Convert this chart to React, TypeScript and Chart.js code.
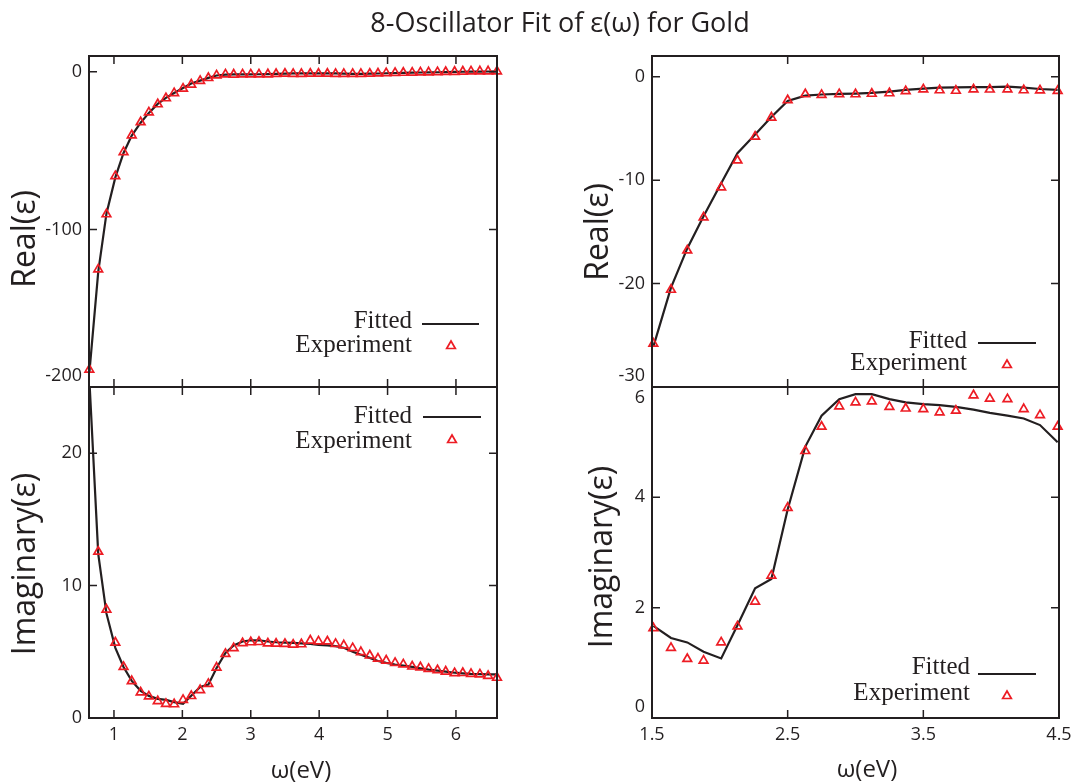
import React, { useEffect, useRef } from 'react';
import { Chart, registerables } from 'chart.js';

Chart.register(...registerables);

// ---- data (photon energy in eV) ----
const OMEGA = [0.64, 0.77, 0.89, 1.02, 1.14, 1.26, 1.39, 1.51, 1.64, 1.76, 1.88, 2.01, 2.13, 2.26, 2.38, 2.5, 2.63, 2.75, 2.88, 3.0, 3.12, 3.25, 3.37, 3.5, 3.62, 3.74, 3.87, 3.99, 4.12, 4.24, 4.36, 4.49, 4.61, 4.74, 4.86, 4.98, 5.11, 5.23, 5.36, 5.48, 5.6, 5.73, 5.85, 5.98, 6.1, 6.22, 6.35, 6.47, 6.6];

const EXP_REAL = [-189.0, -125.4, -90.4, -66.2, -51.0, -40.3, -32.0, -25.8, -20.6, -16.8, -13.6, -10.7, -8.1, -5.8, -3.95, -2.28, -1.7, -1.76, -1.69, -1.7, -1.65, -1.6, -1.4, -1.23, -1.31, -1.36, -1.23, -1.24, -1.23, -1.31, -1.33, -1.37, -1.35, -1.24, -1.08, -0.89, -0.74, -0.62, -0.55, -0.42, -0.35, -0.23, -0.13, -0.01, 0.14, 0.2, 0.29, 0.29, 0.23];

const FIT_REAL = [-191.0, -127.0, -90.0, -67.0, -51.5, -40.5, -32.3, -26.1, -20.4, -16.6, -13.5, -10.3, -7.4, -5.6, -3.9, -2.35, -1.83, -1.72, -1.67, -1.63, -1.57, -1.44, -1.28, -1.15, -1.06, -1.03, -1.0, -1.0, -0.96, -1.06, -1.19, -1.28, -1.3, -1.22, -1.1, -0.95, -0.8, -0.68, -0.58, -0.48, -0.4, -0.3, -0.2, -0.1, 0.0, 0.08, 0.14, 0.18, 0.2];

const EXP_IMAG = [25.36, 12.56, 8.19, 5.7, 3.86, 2.79, 1.93, 1.63, 1.27, 1.07, 1.04, 1.37, 1.66, 2.11, 2.58, 3.81, 4.84, 5.28, 5.65, 5.72, 5.74, 5.64, 5.61, 5.6, 5.54, 5.57, 5.85, 5.79, 5.78, 5.6, 5.49, 5.28, 4.98, 4.72, 4.49, 4.34, 4.16, 4.05, 3.89, 3.83, 3.71, 3.61, 3.51, 3.39, 3.4, 3.33, 3.29, 3.18, 3.04];

const FIT_IMAG = [25.6, 12.4, 7.9, 5.3, 3.85, 2.8, 2.05, 1.67, 1.45, 1.37, 1.2, 1.08, 1.68, 2.35, 2.52, 3.78, 4.92, 5.48, 5.78, 5.87, 5.87, 5.78, 5.72, 5.69, 5.67, 5.64, 5.59, 5.53, 5.48, 5.43, 5.31, 5.0, 4.78, 4.54, 4.3, 4.16, 4.04, 3.96, 3.86, 3.76, 3.66, 3.58, 3.5, 3.42, 3.37, 3.33, 3.31, 3.3, 3.3];

// ---- tick labels ----
const LEFT_X_TICKS = [1, 2, 3, 4, 5, 6];
const RIGHT_X_TICKS = [1.5, 2.5, 3.5, 4.5];
const TL_Y_TICKS = [-200, -100, 0];
const BL_Y_TICKS = [0, 10, 20];
const TR_Y_TICKS = [-30, -20, -10, 0];
const BR_Y_TICKS = [0, 2, 4, 6];

// ---- texts ----
const TITLE = '8-Oscillator Fit of ε(ω) for Gold';
const X_TITLE = 'ω(eV)';
const REAL_TITLE = 'Real(ε)';
const IMAG_TITLE = 'Imaginary(ε)';
const FIT_LABEL = 'Fitted';
const EXP_LABEL = 'Experiment';

const W = 1073;
const H = 784;
const INK = '#231f20';
const RED = '#ed1c24';
const SANS = '"Open Sans", "Liberation Sans", sans-serif';
const SERIF = '"Liberation Serif", "DejaVu Serif", serif';

type Legend = { textRight: number; fitY: number; expY: number; x0: number; x1: number; lineY: number; triX: number; triY: number };
type Panel = {
  area: { l: number; t: number; r: number; b: number };
  xRange: [number, number];
  yRange: [number, number];
  xTicks: number[];
  yTicks: number[];
  showX: boolean;
  exp: number[];
  fit: number[];
  yTitle: string;
  yTitlePos: [number, number];
  xTitlePos?: [number, number];
  legend: Legend;
  shiftUp: number[];
  shiftDown: number[];
  mainTitle?: boolean;
};

const PANELS: Panel[] = [
  {
    area: { l: 89, t: 56, r: 497, b: 387 },
    xRange: [0.635, 6.6], yRange: [-200, 10],
    xTicks: LEFT_X_TICKS, yTicks: TL_Y_TICKS, showX: false,
    exp: EXP_REAL, fit: FIT_REAL,
    yTitle: REAL_TITLE, yTitlePos: [26, 239],
    legend: { textRight: 412, fitY: 321, expY: 345, x0: 422, x1: 479, lineY: 324, triX: 451, triY: 346 },
    shiftUp: [-200], shiftDown: [], mainTitle: true,
  },
  {
    area: { l: 89, t: 387, r: 497, b: 718 },
    xRange: [0.635, 6.6], yRange: [0, 25],
    xTicks: LEFT_X_TICKS, yTicks: BL_Y_TICKS, showX: true,
    exp: EXP_IMAG, fit: FIT_IMAG,
    yTitle: IMAG_TITLE, yTitlePos: [26, 564], xTitlePos: [301, 771],
    legend: { textRight: 412, fitY: 416, expY: 441, x0: 423, x1: 481, lineY: 417, triX: 452, triY: 440 },
    shiftUp: [], shiftDown: [],
  },
  {
    area: { l: 652, t: 56, r: 1059, b: 387 },
    xRange: [1.5, 4.5], yRange: [-30, 2],
    xTicks: RIGHT_X_TICKS, yTicks: TR_Y_TICKS, showX: false,
    exp: EXP_REAL, fit: FIT_REAL,
    yTitle: REAL_TITLE, yTitlePos: [599, 232],
    legend: { textRight: 967, fitY: 341, expY: 363, x0: 978, x1: 1036, lineY: 343, triX: 1007, triY: 365 },
    shiftUp: [-30], shiftDown: [],
  },
  {
    area: { l: 652, t: 387, r: 1059, b: 718 },
    xRange: [1.5, 4.5], yRange: [0, 6],
    xTicks: RIGHT_X_TICKS, yTicks: BR_Y_TICKS, showX: true,
    exp: EXP_IMAG, fit: FIT_IMAG,
    yTitle: IMAG_TITLE, yTitlePos: [603, 557], xTitlePos: [867, 770],
    legend: { textRight: 970, fitY: 667, expY: 693, x0: 978, x1: 1036, lineY: 674, triX: 1007, triY: 696 },
    shiftUp: [0], shiftDown: [6],
  },
];

function series(arr: number[], range: [number, number]) {
  return OMEGA.map((x, i) => ({ x, y: arr[i] })).filter((p) => p.x >= range[0] - 1e-9 && p.x <= range[1] + 1e-9);
}

function makeChart(canvas: HTMLCanvasElement, p: Panel) {
  const yAxisW = 60;
  const xAxisH = p.showX ? 40 : 0;
  const padding = {
    left: p.area.l - yAxisW,
    top: p.area.t,
    right: W - p.area.r,
    bottom: H - p.area.b - xAxisH,
  };

  const deco = {
    id: 'deco' + p.area.l + p.area.t,
    afterDraw(chart: any) {
      const ctx = chart.ctx as CanvasRenderingContext2D;
      const a = chart.chartArea;
      const xs = chart.scales.x;
      const ys = chart.scales.y;
      ctx.save();
      // inward ticks on all four sides
      ctx.strokeStyle = INK;
      ctx.lineWidth = 1.5;
      ctx.beginPath();
      p.xTicks.forEach((v) => {
        const px = xs.getPixelForValue(v);
        ctx.moveTo(px, a.top);
        ctx.lineTo(px, a.top + 8);
        ctx.moveTo(px, a.bottom);
        ctx.lineTo(px, a.bottom - 8);
      });
      p.yTicks.forEach((v) => {
        const py = ys.getPixelForValue(v);
        ctx.moveTo(a.left, py);
        ctx.lineTo(a.left + 8, py);
        ctx.moveTo(a.right, py);
        ctx.lineTo(a.right - 8, py);
      });
      ctx.stroke();
      // frame
      ctx.lineWidth = 2;
      ctx.strokeRect(a.left, a.top, a.right - a.left, a.bottom - a.top);

      ctx.fillStyle = INK;
      // y title
      ctx.save();
      ctx.translate(p.yTitlePos[0], p.yTitlePos[1]);
      ctx.rotate(-Math.PI / 2);
      ctx.font = `32px ${SANS}`;
      ctx.textAlign = 'center';
      ctx.textBaseline = 'middle';
      ctx.fillText(p.yTitle, 0, 0);
      ctx.restore();
      // x title
      if (p.xTitlePos) {
        ctx.font = `24px ${SANS}`;
        ctx.textAlign = 'center';
        ctx.textBaseline = 'middle';
        ctx.fillText(X_TITLE, p.xTitlePos[0], p.xTitlePos[1]);
      }
      // main title
      if (p.mainTitle) {
        ctx.font = `27px ${SANS}`;
        ctx.textAlign = 'center';
        ctx.textBaseline = 'alphabetic';
        ctx.fillText(TITLE, 560, 32);
      }
      // legend
      const lg = p.legend;
      ctx.font = `25px ${SERIF}`;
      ctx.textAlign = 'right';
      ctx.textBaseline = 'middle';
      ctx.fillText(FIT_LABEL, lg.textRight, lg.fitY);
      ctx.fillText(EXP_LABEL, lg.textRight, lg.expY);
      ctx.strokeStyle = INK;
      ctx.lineWidth = 2.2;
      ctx.beginPath();
      ctx.moveTo(lg.x0, lg.lineY);
      ctx.lineTo(lg.x1, lg.lineY);
      ctx.stroke();
      const r = 5;
      ctx.strokeStyle = RED;
      ctx.lineWidth = 1.7;
      ctx.beginPath();
      ctx.moveTo(lg.triX, lg.triY - r);
      ctx.lineTo(lg.triX + r * 0.866, lg.triY + r * 0.5);
      ctx.lineTo(lg.triX - r * 0.866, lg.triY + r * 0.5);
      ctx.closePath();
      ctx.stroke();
      ctx.restore();
    },
  };

  const tickFont = { family: SANS, size: 18 };

  return new Chart(canvas, {
    type: 'line',
    data: {
      datasets: [
        {
          label: EXP_LABEL,
          data: series(p.exp, p.xRange),
          showLine: false,
          pointStyle: 'triangle',
          pointRadius: 5,
          pointBorderColor: RED,
          pointBackgroundColor: 'rgba(0,0,0,0)',
          pointBorderWidth: 1.7,
          borderColor: RED,
          clip: { left: 10, right: 10, top: 0, bottom: 10 },
        },
        {
          label: FIT_LABEL,
          data: series(p.fit, p.xRange),
          borderColor: INK,
          borderWidth: 2.2,
          pointRadius: 0,
          tension: 0,
          fill: false,
        },
      ],
    } as any,
    options: {
      animation: false,
      responsive: false,
      devicePixelRatio: 1,
      events: [],
      layout: { padding },
      plugins: { legend: { display: false }, tooltip: { enabled: false } },
      scales: {
        x: {
          type: 'linear',
          position: 'bottom',
          min: p.xRange[0],
          max: p.xRange[1],
          afterBuildTicks: (s: any) => {
            s.ticks = p.xTicks.map((v) => ({ value: v }));
          },
          afterFit: (s: any) => {
            s.height = xAxisH;
            s.paddingLeft = 0;
            s.paddingRight = 0;
            s.paddingTop = 0;
            s.paddingBottom = 0;
          },
          ticks: {
            display: p.showX,
            color: INK,
            font: tickFont,
            padding: 6,
            maxRotation: 0,
            autoSkip: false,
            callback: (v: any) => String(v),
          },
          grid: { display: false, drawTicks: false },
          border: { display: false },
        },
        y: {
          type: 'linear',
          position: 'left',
          min: p.yRange[0],
          max: p.yRange[1],
          afterBuildTicks: (s: any) => {
            s.ticks = p.yTicks.map((v) => ({ value: v }));
          },
          afterFit: (s: any) => {
            s.width = yAxisW;
            s.paddingLeft = 0;
            s.paddingRight = 0;
            s.paddingTop = 0;
            s.paddingBottom = 0;
          },
          ticks: {
            color: INK,
            font: tickFont,
            padding: 7,
            autoSkip: false,
            callback: (v: any) => {
              const s = String(v);
              if (p.shiftUp.includes(v)) return [s, ''];
              if (p.shiftDown.includes(v)) return ['', s];
              return s;
            },
          },
          grid: { display: false, drawTicks: false },
          border: { display: false },
        },
      },
    } as any,
    plugins: [deco],
  });
}

export default function App() {
  const refs = [useRef<HTMLCanvasElement>(null), useRef<HTMLCanvasElement>(null), useRef<HTMLCanvasElement>(null), useRef<HTMLCanvasElement>(null)];

  useEffect(() => {
    const charts = PANELS.map((p, i) => makeChart(refs[i].current as HTMLCanvasElement, p));
    return () => charts.forEach((c) => c.destroy());
  }, []);

  return (
    <div style={{ position: 'absolute', left: 0, top: 0, width: W, height: H, background: '#fff' }}>
      {PANELS.map((_, i) => (
        <canvas
          key={i}
          ref={refs[i]}
          width={W}
          height={H}
          style={{ position: 'absolute', left: 0, top: 0, width: W, height: H }}
        />
      ))}
    </div>
  );
}
